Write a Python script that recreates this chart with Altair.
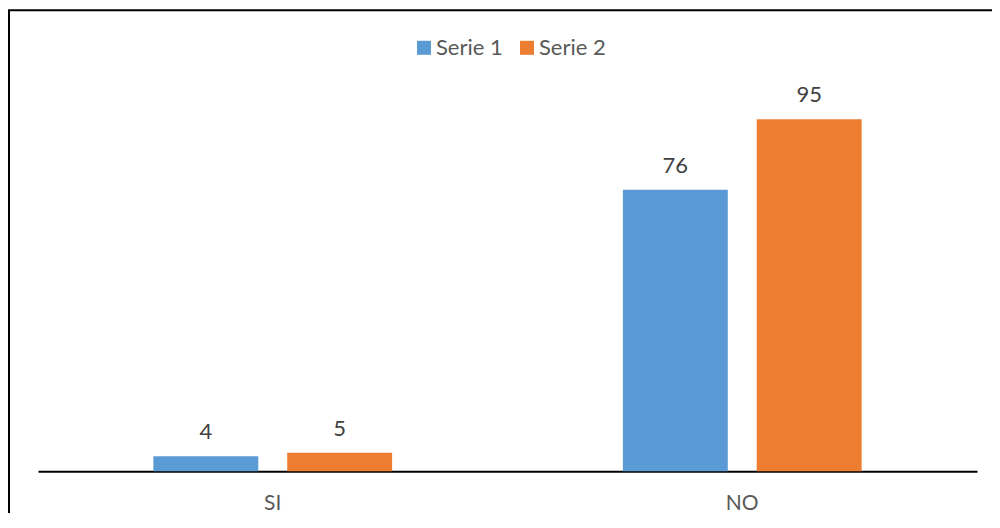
import altair as alt
import pandas as pd

categories = ["SI", "NO"]
series = ["Serie 1", "Serie 2"]
serie1 = [4, 76]
serie2 = [5, 95]
colors = ["#5B9BD5", "#ED7D31"]
title_text = "Gráfico 4.8"

rows = []
for i, c in enumerate(categories):
    rows.append({"cat": c, "serie": series[0], "value": serie1[i]})
    rows.append({"cat": c, "serie": series[1], "value": serie2[i]})
df = pd.DataFrame(rows)

W, H = 939, 370.4

x_enc = alt.X(
    "cat:N",
    sort=categories,
    scale=alt.Scale(paddingInner=0.4915, paddingOuter=0.2457),
    axis=alt.Axis(
        title=None, labelAngle=0, ticks=False, tickSize=0,
        domainColor="black", domainWidth=2,
        labelFont="Lato", labelFontSize=21, labelColor="#595959",
        labelPadding=21,
    ),
)
xo_enc = alt.XOffset("serie:N", sort=series,
                     scale=alt.Scale(paddingInner=0.216, paddingOuter=0))
y_enc = alt.Y("value:Q", scale=alt.Scale(domain=[0, 100]), axis=None)

bars = alt.Chart(df).mark_bar().encode(
    x=x_enc,
    xOffset=xo_enc,
    y=y_enc,
    color=alt.Color(
        "serie:N",
        sort=series,
        scale=alt.Scale(domain=series, range=colors),
        legend=alt.Legend(
            title=None, orient="none", direction="horizontal",
            legendX=375, legendY=-64,
            symbolType="square", symbolSize=196, symbolStrokeWidth=0,
            labelFont="Lato", labelFontSize=22, labelColor="#595959",
            labelOffset=1, columnPadding=13,
        ),
    ),
)

labels = alt.Chart(df).mark_text(
    dy=-17, baseline="alphabetic", fontSize=22, font="Lato", color="#404040"
).encode(
    x=alt.X("cat:N", sort=categories),
    xOffset=alt.XOffset("serie:N", sort=series),
    y=alt.Y("value:Q"),
    text=alt.Text("value:Q"),
)

one = pd.DataFrame({"a": [0]})
border = alt.Chart(one).mark_rect(
    fillOpacity=0, stroke="black", strokeWidth=2
).encode(
    x=alt.value(-29), x2=alt.value(1100),
    y=alt.value(-90.5), y2=alt.value(700),
)

title = alt.Chart(one).mark_text(
    text=title_text, font="Liberation Sans", fontWeight="bold", fontSize=22,
    baseline="alphabetic", align="center", color="black",
).encode(x=alt.value(462), y=alt.value(-92.3))

chart = alt.layer(border, bars, labels, title).properties(
    width=W, height=H,
    autosize=alt.AutoSizeParams(type="none"),
    padding={"left": 30, "top": 92.8, "right": 15, "bottom": 42},
).configure_view(stroke=None)

chart.save("out.html", embed_options={"renderer": "svg", "actions": False})
